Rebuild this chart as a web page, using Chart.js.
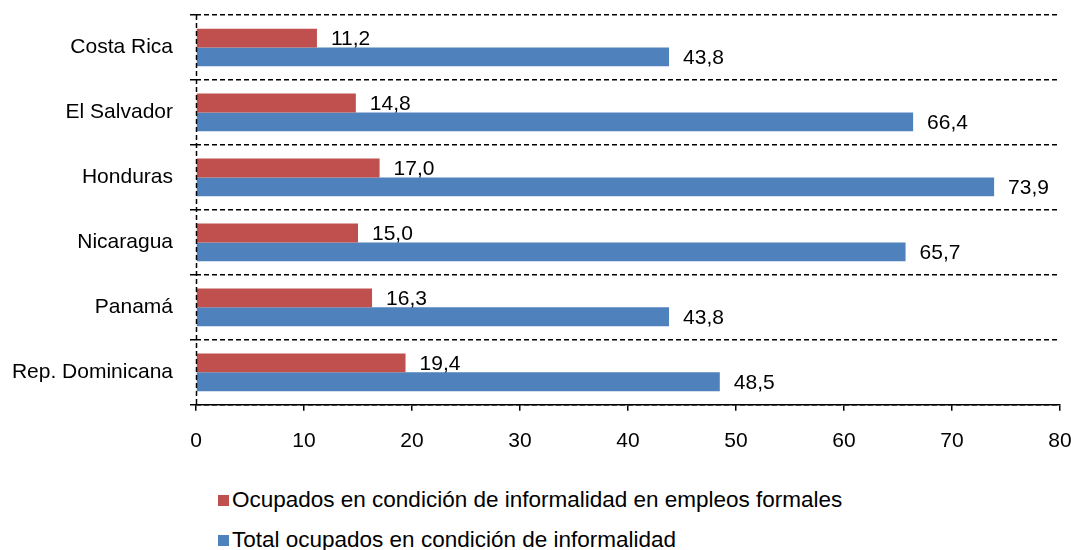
<!DOCTYPE html>
<html>
<head>
<meta charset="utf-8">
<script src="https://cdn.jsdelivr.net/npm/chart.js@4/dist/chart.umd.min.js"></script>
<style>
    body { margin: 0; background: #fff; font-family: "Liberation Sans", Arial, sans-serif; }
    #wrap { position: relative; width: 1071px; height: 550px; }
    #box { position: absolute; left: 0; top: 0; width: 1071px; height: 480px; }
    #legend { position: absolute; left: 218px; top: 486px; }
    .item { display: flex; align-items: center; height: 28px; margin-bottom: 12px; font-size: 22.5px; color: #000; }
    .item span.sw { display: inline-block; width: 11px; height: 11px; margin-right: 3px; }
</style>
</head>
<body>
<div id="wrap">
    <div id="box"><canvas id="informalChart"></canvas></div>
    <div id="legend"></div>
</div>
<script>
const countries = ["Costa Rica", "El Salvador", "Honduras", "Nicaragua", "Panamá", "Rep. Dominicana"];
const formalInformal = [11.2, 14.8, 17.0, 15.0, 16.3, 19.4];
const totalInformal = [43.8, 66.4, 73.9, 65.7, 43.8, 48.5];
const xTicks = [0, 10, 20, 30, 40, 50, 60, 70, 80];

const labelFormal = "Ocupados en condición de informalidad en empleos formales";
const labelTotal = "Total ocupados en condición de informalidad";

const FONT = '"Liberation Sans", Arial, sans-serif';

// eje vertical punteado en x = 0
const dashedZeroAxis = {
    id: 'dashedZeroAxis',
    afterDatasetsDraw(chart) {
        const ctx = chart.ctx;
        const x = Math.round(chart.scales.x.getPixelForValue(0)) + 0.5;
        const area = chart.chartArea;
        ctx.save();
        ctx.strokeStyle = '#000';
        ctx.lineWidth = 1.5;
        ctx.setLineDash([5, 3]);
        ctx.beginPath();
        ctx.moveTo(x, area.top);
        ctx.lineTo(x, area.bottom);
        ctx.stroke();
        ctx.restore();
    }
};

// dibuja los valores al final de cada barra, con coma decimal
const valueLabels = {
    id: 'valueLabels',
    afterDatasetsDraw(chart) {
        const ctx = chart.ctx;
        ctx.save();
        ctx.font = '21px ' + FONT;
        ctx.fillStyle = '#000';
        ctx.textAlign = 'left';
        ctx.textBaseline = 'middle';
        chart.data.datasets.forEach(function(ds, i) {
            const meta = chart.getDatasetMeta(i);
            meta.data.forEach(function(bar, j) {
                const txt = ds.data[j].toFixed(1).replace('.', ',');
                ctx.fillText(txt, bar.x + 14, bar.y + 1);
            });
        });
        ctx.restore();
    }
};

const ctx = document.getElementById('informalChart').getContext('2d');
const informalChart = new Chart(ctx, {
    type: 'bar',
    data: {
        labels: countries,
        datasets: [
            {
                label: labelFormal,
                data: formalInformal,
                backgroundColor: '#C0504D',
                categoryPercentage: 0.58,
                barPercentage: 1.0
            },
            {
                label: labelTotal,
                data: totalInformal,
                backgroundColor: '#4F81BD',
                categoryPercentage: 0.58,
                barPercentage: 1.0
            }
        ]
    },
    options: {
        indexAxis: 'y',
        responsive: true,
        maintainAspectRatio: false,
        animation: false,
        layout: {
            padding: { top: 15, right: 11, bottom: 8, left: 0 }
        },
        scales: {
            x: {
                min: 0,
                max: 80,
                afterBuildTicks: function(axis) {
                    axis.ticks = xTicks.map(function(v) { return { value: v }; });
                },
                afterFit: function(axis) {
                    axis.paddingLeft = 0;
                    axis.paddingRight = 0;
                },
                grid: {
                    drawOnChartArea: false,
                    tickColor: '#000',
                    tickLength: 6,
                    lineWidth: 1.5
                },
                border: { display: true, color: '#000', width: 1.5 },
                ticks: {
                    color: '#000',
                    padding: 18,
                    font: { family: FONT, size: 21 }
                }
            },
            y: {
                afterFit: function(axis) {
                    axis.width = 196;
                    axis.paddingTop = 0;
                    axis.paddingBottom = 0;
                },
                grid: {
                    offset: true,
                    color: '#000',
                    lineWidth: 1.5,
                    tickLength: 6,
                    tickColor: '#000'
                },
                border: { display: false, dash: [5, 3] },
                ticks: {
                    color: '#000',
                    padding: 17,
                    font: { family: FONT, size: 21 }
                }
            }
        },
        plugins: {
            legend: { display: false },
            tooltip: { enabled: false }
        }
    },
    plugins: [dashedZeroAxis, valueLabels]
});

// leyenda en dos filas
const legendDiv = document.getElementById('legend');
informalChart.data.datasets.forEach(function(ds) {
    const row = document.createElement('div');
    row.className = 'item';
    row.innerHTML = '<span class="sw" style="background:' + ds.backgroundColor + '"></span>' + ds.label;
    legendDiv.appendChild(row);
});
</script>
</body>
</html>
